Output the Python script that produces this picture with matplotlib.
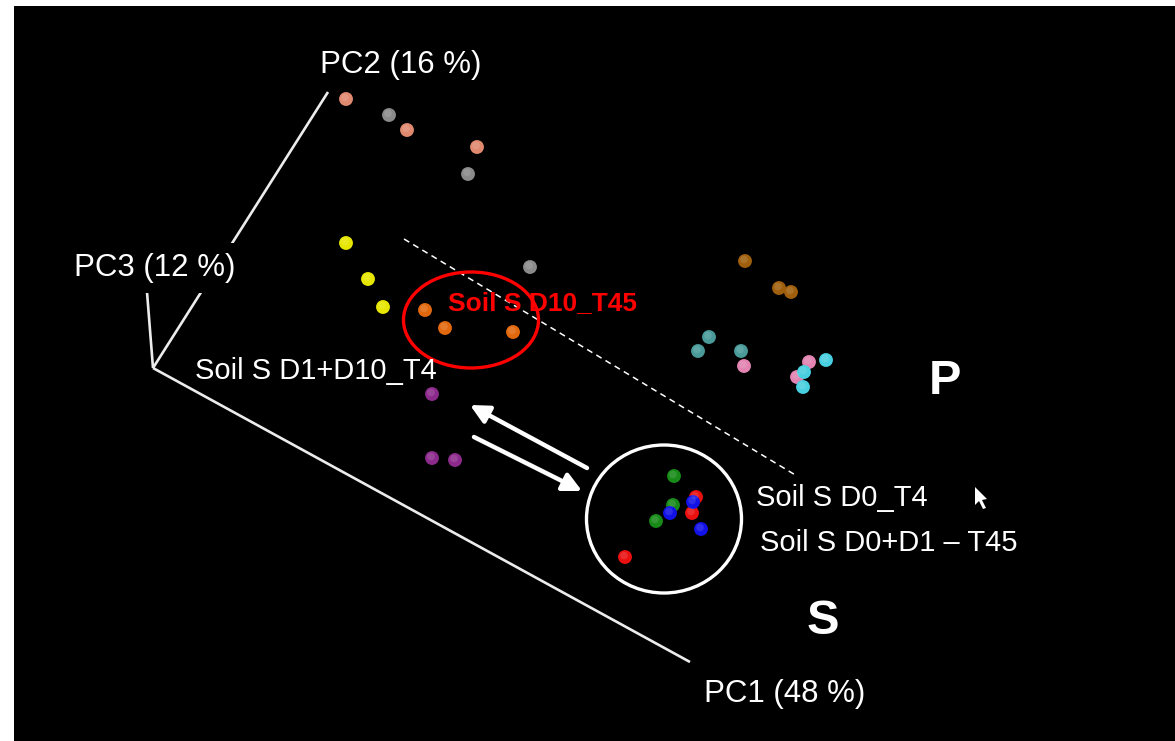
import matplotlib
matplotlib.use('Agg')
from matplotlib import pyplot as plt
from matplotlib.patches import Ellipse, Polygon

plt.rcParams['font.family'] = ['Liberation Sans', 'DejaVu Sans']

# projected positions of the samples on screen (x, y), one list per group
salmon_x = [346, 407, 477]
salmon_y = [99, 130, 147]
grey_x = [389, 468, 530]
grey_y = [115, 174, 267]
yellow_x = [346, 368, 383]
yellow_y = [243, 279, 307]
orange_x = [425, 445, 513]
orange_y = [310, 328, 332]
purple_x = [432, 432, 455]
purple_y = [394, 458, 460]
brown_x = [745, 779, 791]
brown_y = [261, 288, 292]
teal_x = [709, 698, 741]
teal_y = [337, 351, 351]
pink_x = [744, 809, 797]
pink_y = [366, 362, 377]
cyan_x = [826, 804, 803]
cyan_y = [360, 372, 387]
green_x = [674, 673, 656]
green_y = [476, 505, 521]
red_x = [696, 692, 625]
red_y = [497, 513, 557]
blue_x = [693, 670, 701]
blue_y = [502, 513, 529]

groups = [
    (salmon_x, salmon_y, '#e0896f'),
    (grey_x, grey_y, '#8a8a8a'),
    (yellow_x, yellow_y, '#e6e600'),
    (orange_x, orange_y, '#e2680e'),
    (purple_x, purple_y, '#8c2a8c'),
    (brown_x, brown_y, '#a05f0c'),
    (teal_x, teal_y, '#4a9a9a'),
    (pink_x, pink_y, '#e283b2'),
    (cyan_x, cyan_y, '#48cfe0'),
    (green_x, green_y, '#178a17'),
    (red_x, red_y, '#ea1010'),
    (blue_x, blue_y, '#1212e6'),
]

origin = (153, 368)
pc1_end = (690, 662)
pc2_end = (328, 92)
pc3_end = (147, 292)

fig = plt.figure(figsize=(11.75, 7.41), dpi=100)
fig.patch.set_facecolor('white')
ax = fig.add_axes([14 / 1175, 0, 1161 / 1175, 735 / 741])
ax.set_facecolor('black')
ax.set_xlim(14, 1175)
ax.set_ylim(741, 6)
ax.set_xticks([])
ax.set_yticks([])
for s in ax.spines.values():
    s.set_visible(False)

# axes of the pca
for end in [pc1_end, pc2_end, pc3_end]:
    ax.plot([origin[0], end[0]], [origin[1], end[1]], color='#ececec', lw=1.9,
            solid_capstyle='butt', zorder=2)

ax.plot([404, 797], [239, 476], color='white', lw=1.1, ls=(0, (4, 3)), zorder=2)

# samples
for xs, ys, c in groups:
    ax.scatter(xs, ys, s=100, color=c, edgecolors='none', zorder=4)
    ax.scatter([x - 1 for x in xs], [y - 1.5 for y in ys], s=30, color='white',
               alpha=0.12, edgecolors='none', zorder=5)

ax.add_patch(Ellipse((471, 320), 135, 96, fill=False, ec='#ff0000', lw=2.4, zorder=3))
ax.add_patch(Ellipse((664, 519), 155, 148, fill=False, ec='white', lw=2.4, zorder=3))

ax.annotate('', xy=(470, 405), xytext=(587, 468),
            arrowprops=dict(arrowstyle='-|>', color='white', lw=3.2, mutation_scale=28,
                            shrinkA=0, shrinkB=0), zorder=3)
ax.annotate('', xy=(582, 491), xytext=(474, 437),
            arrowprops=dict(arrowstyle='-|>', color='white', lw=3.2, mutation_scale=28,
                            shrinkA=0, shrinkB=0), zorder=3)

# mouse cursor
ax.add_patch(Polygon([(975, 487), (975, 505), (979, 501), (983, 509), (986, 508),
                      (982, 500), (987, 499)], closed=True, fc='white', ec='none', zorder=6))

ax.text(401, 65, 'PC2 (16 %)', color='white', fontsize=22.5, ha='center', va='center', zorder=7,
        bbox=dict(boxstyle='square,pad=0.2', fc='black', ec='none'))
ax.text(155, 268, 'PC3 (12 %)', color='white', fontsize=22.5, ha='center', va='center', zorder=7,
        bbox=dict(boxstyle='square,pad=0.33', fc='black', ec='none'))
ax.text(785, 694, 'PC1 (48 %)', color='white', fontsize=22.5, ha='center', va='center', zorder=7)
ax.text(316, 371, 'Soil S D1+D10_T4', color='white', fontsize=21, ha='center', va='center', zorder=7)
ax.text(543, 303, 'Soil S D10_T45', color='#ff0000', fontsize=19, fontweight='bold',
        ha='center', va='center', zorder=7)
ax.text(842, 498, 'Soil S D0_T4', color='white', fontsize=21, ha='center', va='center', zorder=7)
ax.text(889, 543, 'Soil S D0+D1 \u2013 T45', color='white', fontsize=21, ha='center', va='center', zorder=7)
ax.text(945, 381, 'P', color='white', fontsize=35, fontweight='bold', ha='center', va='center', zorder=7)
ax.text(823, 621, 'S', color='white', fontsize=35, fontweight='bold', ha='center', va='center', zorder=7)

fig.savefig('out.png', dpi=100, facecolor=fig.get_facecolor())
